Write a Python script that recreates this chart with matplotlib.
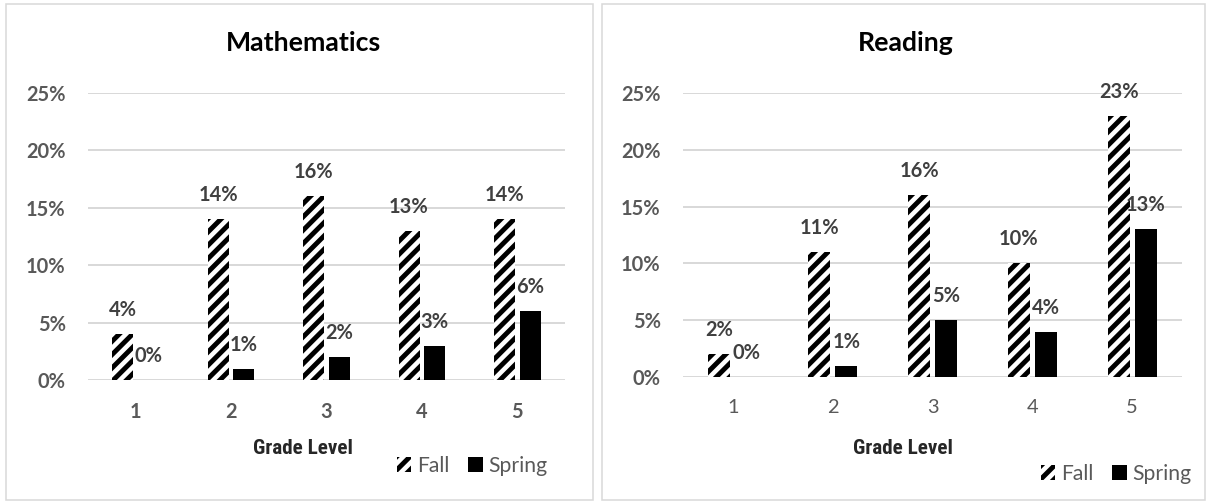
import matplotlib
matplotlib.use("Agg")
import matplotlib.pyplot as plt
import matplotlib.patches as mpatches
from matplotlib import font_manager as fm
import numpy as np

# ---- data ----
grades = ["1", "2", "3", "4", "5"]
math_fall = [4, 14, 16, 13, 14]
math_spring = [0, 1, 2, 3, 6]
read_fall = [2, 11, 16, 10, 23]
read_spring = [0, 1, 5, 4, 13]
y_ticks = [0, 5, 10, 15, 20, 25]
titles = ["Mathematics", "Reading"]
x_title = "Grade Level"
series_names = ["Fall", "Spring"]

DPI = 80
W, H = 1207, 502
plt.rcParams['font.family'] = ['Lato', 'DejaVu Sans']
plt.rcParams['hatch.linewidth'] = 4.4
plt.rcParams['hatch.color'] = 'black'

# condensed font for the axis title, if one is installed
cond = None
for f in fm.fontManager.ttflist:
    if f.name in ('Liberation Sans Narrow', 'Roboto Condensed', 'Open Sans Condensed'):
        cond = dict(family=f.name)
        break
if cond is None:
    for f in fm.fontManager.ttflist:
        if f.name == 'DejaVu Sans' and str(f.stretch) in ('condensed', 'semi-condensed'):
            cond = dict(family='DejaVu Sans', stretch='condensed')
            break

fig = plt.figure(figsize=(W / DPI, H / DPI), dpi=DPI)

def fx(px):
    return px / W

def fy(py):
    return 1 - py / H

# panel borders
for (x0, x1) in [(6, 593), (602, 1205)]:
    fig.patches.append(mpatches.Rectangle((fx(x0), fy(500)), fx(x1 - x0), (500 - 4) / H,
                                          transform=fig.transFigure, fill=False,
                                          edgecolor='#d9d9d9', linewidth=1.4))

panels = [
    dict(fall=math_fall, spring=math_spring, title=titles[0], ax=(88, 565, 93, 380),
         title_x=304, xl_x=303, leg=(472, 466), xbold=True),
    dict(fall=read_fall, spring=read_spring, title=titles[1], ax=(683, 1182, 93, 377),
         title_x=906, xl_x=903, leg=(1116, 474), xbold=False),
]

x = np.arange(len(grades))
bw = 0.22
off = 0.135
tick_col = '#595959'
lab_col = '#404040'

for p in panels:
    x0, x1, yt, yb = p['ax']
    ax = fig.add_axes([fx(x0), fy(yb), fx(x1 - x0), (yb - yt) / H])
    ax.set_xlim(-0.5, len(grades) - 0.5)
    ax.set_ylim(0, 25)
    b1 = ax.bar(x - off, p['fall'], bw, color='white', edgecolor='black', linewidth=0,
                hatch='//', zorder=3, label=series_names[0])
    b2 = ax.bar(x + off, p['spring'], bw, color='black', linewidth=0, zorder=3,
                label=series_names[1])
    for bars, vals in [(b1, p['fall']), (b2, p['spring'])]:
        for r, v in zip(bars, vals):
            ax.annotate(f"{v}%", (r.get_x() + r.get_width() / 2, v),
                        xytext=(0, 24), textcoords='offset pixels',
                        ha='center', va='center', fontsize=18, fontweight='bold',
                        color=lab_col, zorder=5)
    ax.set_yticks(y_ticks)
    ax.set_yticklabels([f"{t}%" for t in y_ticks], fontsize=18, fontweight='bold', color=tick_col)
    ax.set_xticks(x)
    ax.set_xticklabels(grades, fontsize=18, fontweight='bold' if p['xbold'] else 'normal',
                       color=tick_col)
    ax.tick_params(axis='y', length=0, pad=20)
    ax.tick_params(axis='x', length=0, pad=20)
    ax.grid(axis='y', color='#d9d9d9', linewidth=1.8, zorder=0)
    ax.set_axisbelow(True)
    for s in ax.spines.values():
        s.set_visible(False)

    fig.text(fx(p['title_x']), fy(43), p['title'], ha='center', va='center',
             fontsize=24, fontweight='bold', color='black')
    if cond is not None:
        fig.text(fx(p['xl_x']), fy(448), x_title, ha='center', va='center',
                 fontsize=19, fontweight='bold', color='#262626', **cond)
    else:
        fig.text(fx(p['xl_x']), fy(448), x_title, ha='center', va='center',
                 fontsize=18, fontweight='bold', color='#262626')
    lx, ly = p['leg']
    leg = fig.legend(handles=[b1, b2], loc='center', bbox_to_anchor=(fx(lx), fy(ly)),
                     ncol=2, frameon=False, fontsize=19, handlelength=0.7, handleheight=0.7,
                     handletextpad=0.25, columnspacing=0.9, borderpad=0, borderaxespad=0)
    for t in leg.get_texts():
        t.set_color(tick_col)

fig.savefig("out.png", dpi=DPI, facecolor='white')
